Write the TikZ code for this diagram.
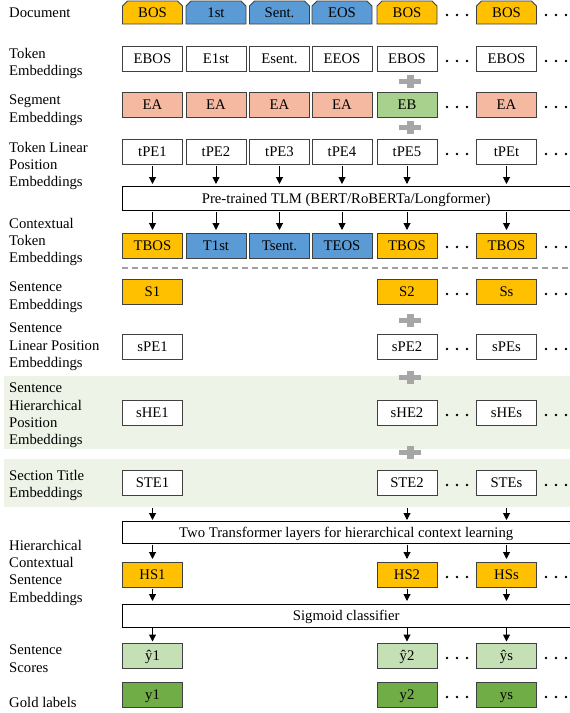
\documentclass[tikz,border=0pt]{standalone}
\usepackage{fontspec}
\setmainfont{Liberation Serif}
\usetikzlibrary{arrows.meta}
\definecolor{borange}{HTML}{FFC000}
\definecolor{bblue}{HTML}{5B9BD5}
\definecolor{bsalmon}{HTML}{F4B9A0}
\definecolor{bgreen}{HTML}{A9D18E}
\definecolor{bltgreen}{HTML}{C5E0B4}
\definecolor{bdkgreen}{HTML}{70AD47}
\definecolor{bband}{HTML}{EDF3E6}
\definecolor{bedge}{HTML}{404040}
\definecolor{bplus}{HTML}{A6A6A6}
\definecolor{bdash}{HTML}{A0A0A0}
\begin{document}
\begin{tikzpicture}[x=1pt,y=-1pt,
  font=\fontsize{14.7}{17.2}\selectfont,
  cell/.style={draw=bedge, line width=0.9pt, minimum width=60pt, minimum height=24.5pt,
    inner sep=0pt, anchor=north, text height=11.5pt, text depth=1.5pt},
  tabtext/.style={inner sep=0pt, text height=11.5pt, text depth=1.5pt},
  tabshape/.style={draw=bedge, line width=0.9pt},
  lbl/.style={anchor=north west, align=left, inner sep=0pt},
  arr/.style={-{Triangle[length=7pt,width=7pt]}, line width=1pt, black},
  widebox/.style={minimum width=448pt, inner sep=0pt, anchor=north west, text height=11.5pt, text depth=1.5pt},
  boxline/.style={draw=black, line width=0.9pt},
  plussign/.pic={\fill[bplus] (-11,-2.5) rectangle (11,2.5); \fill[bplus] (-3.5,-6.5) rectangle (3.5,6.5);},
  threedots/.pic={\fill[black] (-10,0) circle (1.4); \fill[black] (0,0) circle (1.4); \fill[black] (10,0) circle (1.4);}
]
\useasboundingbox (0,0) rectangle (570,713);
\fill[white] (0,0) rectangle (570,713);

% green bands
\fill[bband] (4,376) rectangle (570,449);
\fill[bband] (4,459) rectangle (570,507);

% labels
\node[lbl] (lDoc) at (9,8) {Document};
\node[lbl] (lTok) at (9,48) {Token\\Embeddings};
\node[lbl] (lSeg) at (9,95) {Segment\\Embeddings};
\node[lbl] (lTpe) at (9,142) {Token Linear\\Position\\Embeddings};
\node[lbl] (lCtx) at (9,218) {Contextual\\Token\\Embeddings};
\node[lbl] (lSen) at (9,282) {Sentence\\Embeddings};
\node[lbl] (lSpe) at (9,323) {Sentence\\Linear Position\\Embeddings};
\node[lbl] (lShe) at (9,383) {Sentence\\Hierarchical\\Position\\Embeddings};
\node[lbl] (lSte) at (9,470) {Section Title\\Embeddings};
\node[lbl] (lHs) at (9,540) {Hierarchical\\Contextual\\Sentence\\Embeddings};
\node[lbl] (lSc) at (9,645) {Sentence\\Scores};
\node[lbl] (lGold) at (9,697) {Gold labels};

% document tabs
\foreach \x/\t/\n/\f in {152.5/BOS/1/borange, 216/1st/2/bblue, 279.5/Sent./3/bblue, 342/EOS/4/bblue, 407/BOS/5/borange, 506.5/BOS/6/borange}{
  \draw[tabshape, fill=\f] ({\x-30},24) -- ({\x-30},6) -- ({\x-25},1) -- ({\x+25},1) -- ({\x+30},6) -- ({\x+30},24) -- cycle;
  \node[tabtext] (doc\n) at (\x,12.5) {\t};
}

% token embeddings
\foreach \x/\t/\n in {152.5/EBOS/1, 216/E1st/2, 279.5/Esent./3, 342/EEOS/4, 407/EBOS/5, 506.5/EBOS/6}
  \node[cell] (tok\n) at (\x,46) {\t};
% segment embeddings
\foreach \x/\t/\n/\f in {152.5/EA/1/bsalmon, 216/EA/2/bsalmon, 279.5/EA/3/bsalmon, 342/EA/4/bsalmon, 407/EB/5/bgreen, 506.5/EA/6/bsalmon}
  \node[cell, fill=\f] (seg\n) at (\x,92) {\t};
% token position embeddings
\foreach \x/\t/\n in {152.5/tPE1/1, 216/tPE2/2, 279.5/tPE3/3, 342/tPE4/4, 407/tPE5/5, 506.5/tPEt/6}
  \node[cell] (tpe\n) at (\x,139) {\t};

% TLM
\node[widebox, minimum height=24pt] (tlm) at (122,186) {Pre-trained TLM (BERT/RoBERTa/Longformer)};
\draw[boxline] (tlm.north east) -- (tlm.north west) -- (tlm.south west) -- (tlm.south east);

% contextual token embeddings
\foreach \x/\t/\n/\f in {152.5/TBOS/1/borange, 216/T1st/2/bblue, 279.5/Tsent./3/bblue, 342/TEOS/4/bblue, 407/TBOS/5/borange, 506.5/TBOS/6/borange}
  \node[cell, fill=\f] (ctx\n) at (\x,233) {\t};

\foreach \n in {1,...,6}{
  \draw[arr, shorten <=2pt, shorten >=2pt] (tpe\n.south) -- (tpe\n.south |- tlm.north);
  \draw[arr, shorten <=2pt, shorten >=3pt] (tlm.south -| ctx\n.north) -- (ctx\n.north);
}

% dashed separator
\coordinate (dashL) at (122,268);
\coordinate (dashR) at (570,268);
\draw[bdash, line width=1.3pt, dash pattern=on 6pt off 4pt] (dashL) -- (dashR);

% sentence-level rows
\node[cell, fill=borange] (sen1) at (152.5,279) {S1};
\node[cell, fill=borange] (sen5) at (407,279) {S2};
\node[cell, fill=borange] (sen6) at (506.5,279) {Ss};

\node[cell, fill=white] (spe1) at (152.5,334) {sPE1};
\node[cell, fill=white] (spe5) at (407,334) {sPE2};
\node[cell, fill=white] (spe6) at (506.5,334) {sPEs};

\node[cell, fill=white] (she1) at (152.5,400) {sHE1};
\node[cell, fill=white] (she5) at (407,400) {sHE2};
\node[cell, fill=white] (she6) at (506.5,400) {sHEs};

\node[cell, fill=white] (ste1) at (152.5,470) {STE1};
\node[cell, fill=white] (ste5) at (407,470) {STE2};
\node[cell, fill=white] (ste6) at (506.5,470) {STEs};

% transformer
\node[widebox, minimum height=22pt] (trans) at (122,521) {Two Transformer layers for hierarchical context learning};
\draw[boxline] (trans.north east) -- (trans.north west) -- (trans.south west) -- (trans.south east);

\node[cell, fill=borange] (hs1) at (152.5,562) {HS1};
\node[cell, fill=borange] (hs5) at (407,562) {HS2};
\node[cell, fill=borange] (hs6) at (506.5,562) {HSs};

% sigmoid
\node[widebox, minimum height=23pt] (sig) at (122,604) {Sigmoid classifier};
\draw[boxline] (sig.north east) -- (sig.north west) -- (sig.south west) -- (sig.south east);

\node[cell, fill=bltgreen] (yh1) at (152.5,643) {ŷ1};
\node[cell, fill=bltgreen] (yh5) at (407,643) {ŷ2};
\node[cell, fill=bltgreen] (yh6) at (506.5,643) {ŷs};

\node[cell, fill=bdkgreen] (gd1) at (152.5,682) {y1};
\node[cell, fill=bdkgreen] (gd5) at (407,682) {y2};
\node[cell, fill=bdkgreen] (gd6) at (506.5,682) {ys};

\foreach \n in {1,5,6}{
  \draw[arr, shorten >=1pt] ([yshift=-13pt]ste\n.south) -- (ste\n.south |- trans.north);
  \draw[arr, shorten <=1.5pt, shorten >=3pt] (trans.south -| hs\n.north) -- (hs\n.north);
  \draw[arr, shorten <=1.5pt, shorten >=3pt] (hs\n.south) -- (hs\n.south |- sig.north);
  \draw[arr, shorten <=1pt, shorten >=1.5pt] (sig.south -| yh\n.north) -- (yh\n.north);
}

% plus signs
\foreach \y in {81.5,127.5,320,377,452}
  \pic at (410,\y) {plussign};

% dots
\foreach \y in {15,61,107,154,247,294,349,415,485,577,658,697}{
  \pic at (457,\y) {threedots};
  \pic at (556,\y) {threedots};
}
\end{tikzpicture}
\end{document}
